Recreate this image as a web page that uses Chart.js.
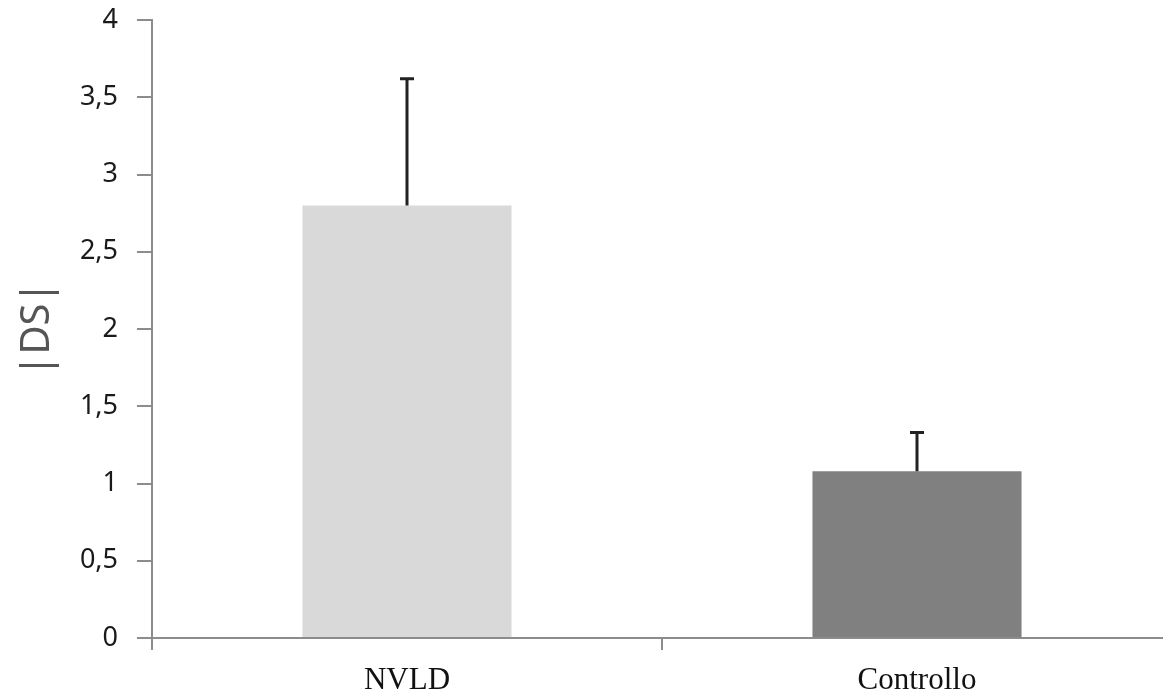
<!DOCTYPE html>
<html>
<head>
<meta charset="utf-8">
<script src="https://cdn.jsdelivr.net/npm/chart.js@4"></script>
<style>
  html, body { margin: 0; padding: 0; background: #fff; overflow: hidden; }
  #wrap { width: 1163px; height: 696px; overflow: hidden; }
</style>
</head>
<body>
<div id="wrap"><canvas id="barChart" width="1172" height="696"></canvas></div>
<script>
// dati
var categorie = ["NVLD", "Controllo"];
var medie = [2.80, 1.08];
var devStd = [0.82, 0.25];
var coloriBarre = ["#d9d9d9", "#808080"];
var tickY = [0, 0.5, 1, 1.5, 2, 2.5, 3, 3.5, 4];

// barre di errore (solo verso l'alto)
var errorBars = {
  id: "errorBars",
  afterDatasetsDraw: function (chart) {
    var ctx = chart.ctx;
    var x = chart.scales.x;
    var y = chart.scales.y;
    ctx.save();
    ctx.strokeStyle = "#222";
    ctx.lineWidth = 3;
    medie.forEach(function (m, i) {
      var cx = x.getPixelForValue(i);
      var y0 = y.getPixelForValue(m);
      var y1 = y.getPixelForValue(m + devStd[i]);
      ctx.beginPath();
      ctx.moveTo(cx, y0);
      ctx.lineTo(cx, y1);
      ctx.moveTo(cx - 7, y1);
      ctx.lineTo(cx + 7, y1);
      ctx.stroke();
    });
    ctx.restore();
  },
};

var ctx = document.getElementById("barChart").getContext("2d");
var myChart = new Chart(ctx, {
  type: "bar",
  data: {
    labels: categorie,
    datasets: [
      {
        data: medie,
        backgroundColor: coloriBarre,
        borderWidth: 0,
        categoryPercentage: 1,
        barPercentage: 0.41,
      },
    ],
  },
  options: {
    responsive: false,
    animation: false,
    layout: { padding: { top: 20, right: 0, left: 0, bottom: 0 } },
    plugins: {
      legend: { display: false },
      tooltip: { enabled: false },
    },
    scales: {
      x: {
        grid: {
          offset: true,
          drawOnChartArea: false,
          tickLength: 12,
          color: "#8c8c8c",
          lineWidth: 2,
        },
        border: { color: "#8c8c8c", width: 2 },
        ticks: {
          padding: 12,
          color: "#111",
          font: { family: "Liberation Serif", size: 31 },
        },
        afterFit: function (scale) {
          scale.height = 58;
          scale.paddingLeft = 0;
          scale.paddingRight = 0;
        },
      },
      y: {
        min: 0,
        max: 4,
        afterBuildTicks: function (scale) {
          scale.ticks = tickY.map(function (v) {
            return { value: v };
          });
        },
        grid: {
          drawOnChartArea: false,
          tickLength: 15,
          color: "#8c8c8c",
          lineWidth: 2,
        },
        border: { color: "#8c8c8c", width: 2 },
        ticks: {
          padding: 19,
          color: "#1a1a1a",
          font: { family: "Noto Sans", size: 27 },
          callback: function (v) {
            return String(v).replace(".", ",");
          },
        },
        title: {
          display: true,
          text: "|DS|",
          color: "#555",
          padding: { top: 14, bottom: 0 },
          font: { family: "Noto Sans", size: 40 },
        },
        afterFit: function (scale) {
          scale.width = 152;
          // niente spazio extra per l'etichetta "4"
          scale.paddingTop = 0;
          scale.paddingBottom = 0;
        },
      },
    },
  },
  plugins: [errorBars],
});
</script>
</body>
</html>
